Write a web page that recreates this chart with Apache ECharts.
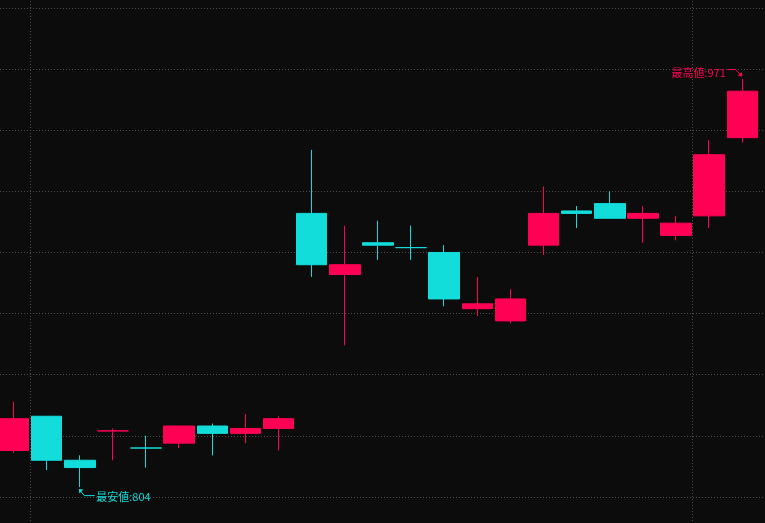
<!DOCTYPE html>
<html>
<head>
<meta charset="utf-8">
<script src="https://cdn.jsdelivr.net/npm/echarts@6/dist/echarts.min.js"></script>
<style>
html,body{margin:0;padding:0;background:#0c0c0c;overflow:hidden;width:765px;height:523px;}
#wrap{position:relative;width:765px;height:523px;overflow:hidden;}
#c{position:absolute;left:-3px;top:-53px;width:795px;height:611px;}
</style>
</head>
<body>
<div id="wrap"><div id="c"></div></div>
<script>
// categories (trading days)
const categories = ['D1','D2','D3','D4','D5','D6','D7','D8','D9','D10','D11','D12','D13','D14','D15','D16','D17','D18','D19','D20','D21','D22','D23'];
// [open, close, low, high]
const opens  = [819, 833, 815, 827, 820, 822, 829, 826, 828, 916, 891, 904, 902, 900, 877, 872, 903, 917, 920, 914, 907, 915, 947];
const closes = [832, 815, 812, 827, 820, 829, 826, 828, 832, 895, 895, 903, 902, 881, 879, 881, 916, 916, 914, 916, 912, 940, 966];
const lows   = [818, 811, 804, 815, 812, 820, 817, 822, 819, 890, 862, 897, 897, 878, 874, 871, 899, 910, 914, 904, 905, 910, 945];
const highs  = [839, 833, 817, 828, 825, 829, 830, 834, 833, 942, 911, 913, 911, 903, 890, 885, 927, 919, 925, 919, 915, 946, 971];
const yTicks = [775, 800, 825, 850, 875, 900, 925, 950, 975, 1000, 1025];

const UP = '#ff0055';
const DOWN = '#12dddb';
const GRID = '#4a4a4a';

const data = opens.map((o, i) => [o, closes[i], lows[i], highs[i]]);

const chart = echarts.init(document.getElementById('c'));
chart.setOption({
  backgroundColor: '#0c0c0c',
  animation: false,
  grid: {left: 0, right: 0, top: 0, bottom: 0, containLabel: false},
  xAxis: {
    type: 'category',
    data: categories,
    boundaryGap: true,
    max: categories.length, // one empty slot to the right of the last day
    axisLine: {show: false},
    axisTick: {show: false},
    axisLabel: {show: false},
    splitLine: {
      show: true,
      interval: (idx) => idx % 20 === 1,
      lineStyle: {color: GRID, type: [1, 2], width: 1}
    }
  },
  yAxis: {
    type: 'value',
    min: yTicks[0],
    max: yTicks[yTicks.length - 1],
    interval: yTicks[1] - yTicks[0],
    axisLine: {show: false},
    axisTick: {show: false},
    axisLabel: {show: false},
    splitLine: {show: true, lineStyle: {color: GRID, type: [1, 2], width: 1}}
  },
  series: [{
    type: 'candlestick',
    data: data,
    barWidth: 31,
    itemStyle: {
      color: UP, color0: DOWN,
      borderColor: UP, borderColor0: DOWN,
      borderWidth: 1
    }
  }]
});

// annotations for lowest / highest, positioned through the series coordinate system
let minI = 0, maxI = 0;
lows.forEach((v, i) => { if (v < lows[minI]) minI = i; });
highs.forEach((v, i) => { if (v > highs[maxI]) maxI = i; });
const pMin = chart.convertToPixel({seriesIndex: 0}, [minI, lows[minI]]);
const pMax = chart.convertToPixel({seriesIndex: 0}, [maxI, highs[maxI]]);

const font = '11px "Noto Sans CJK JP", "Noto Sans", sans-serif';
const tMin = [pMin[0] - 1, pMin[1] + 2];
const tMax = [pMax[0], pMax[1] - 2.5];
chart.setOption({
  graphic: [
    {type: 'polyline', silent: true,
     shape: {points: [[tMin[0] + 1, tMin[1] + 1], [pMin[0] + 4.5, pMin[1] + 8.5], [pMin[0] + 15, pMin[1] + 8.5]]},
     style: {stroke: DOWN, lineWidth: 1, fill: null}},
    {type: 'polygon', silent: true,
     shape: {points: [tMin, [tMin[0] + 4.5, tMin[1] + 0.5], [tMin[0] + 0.5, tMin[1] + 4.5]]},
     style: {fill: DOWN}},
    {type: 'text', silent: true,
     style: {text: '最安値:' + lows[minI], x: pMin[0] + 16.5, y: pMin[1] + 9.5,
             fill: DOWN, font: font, verticalAlign: 'middle', align: 'left'}},
    {type: 'polyline', silent: true,
     shape: {points: [[pMax[0] - 15, pMax[1] - 9.5], [pMax[0] - 7, pMax[1] - 9.5], [tMax[0] - 1, tMax[1] - 1]]},
     style: {stroke: UP, lineWidth: 1, fill: null}},
    {type: 'polygon', silent: true,
     shape: {points: [tMax, [tMax[0] - 4.5, tMax[1] - 0.5], [tMax[0] - 0.5, tMax[1] - 4.5]]},
     style: {fill: UP}},
    {type: 'text', silent: true,
     style: {text: '最高値:' + highs[maxI], x: pMax[0] - 16.5, y: pMax[1] - 6,
             fill: UP, font: font, verticalAlign: 'middle', align: 'right'}}
  ]
});
</script>
</body>
</html>
